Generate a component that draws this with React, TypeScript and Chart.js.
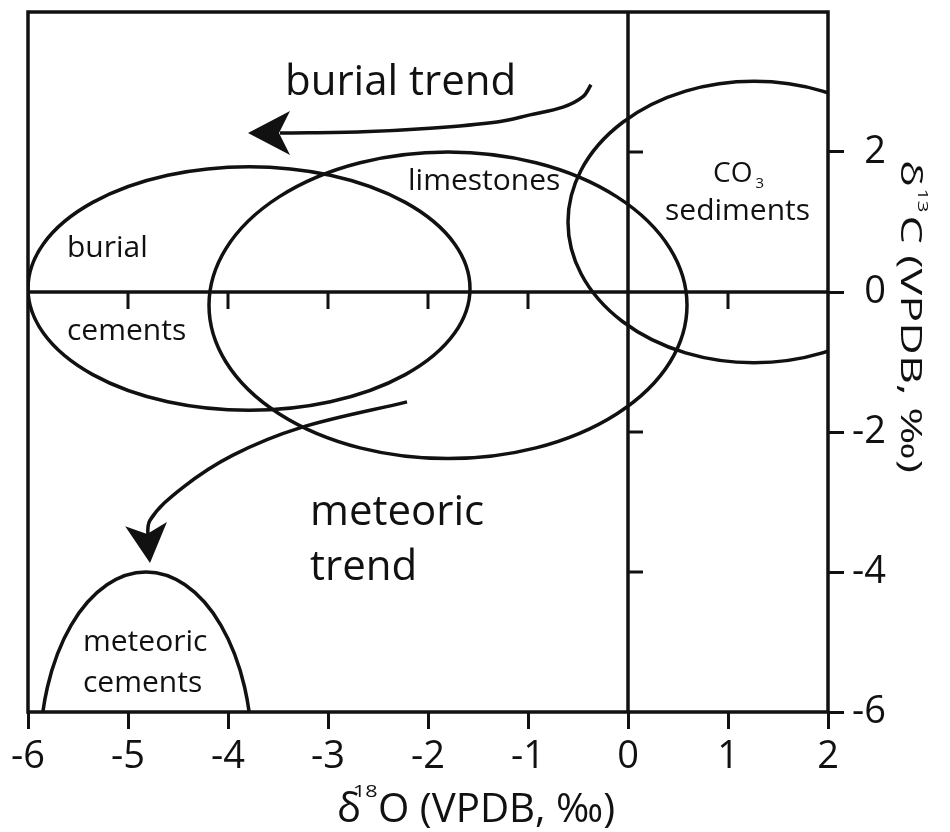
import React, { useEffect, useRef } from 'react';
import { Chart, registerables } from 'chart.js';

Chart.register(...registerables);

const FONT = '"Open Sans", "Noto Sans", "DejaVu Sans", sans-serif';
const INK = '#111';

// ---- axes ----
const xMin = -6;
const xMax = 2;
const yMin = -6;
const yMax = 4;
const xTickValues = [-6, -5, -4, -3, -2, -1, 0, 1, 2];
const yTickValues = [-6, -4, -2, 0, 2];
const innerXTickValues = [-5, -4, -3, -2, -1, 1]; // ticks on the y = 0 line
const innerYTickValues = [2, -2, -4]; // ticks on the x = 0 line

// ---- isotope fields (ellipses: centre and semi-axes, in ‰) ----
const fieldNames = ['burial cements', 'limestones', 'CO3 sediments', 'meteoric cements'];
const fieldCx = [-3.79, -1.8, 1.26, -4.82];
const fieldCy = [0.05, -0.19, 1.0, -6.6];
const fieldRx = [2.21, 2.39, 1.86, 1.06];
const fieldRy = [1.74, 2.19, 2.01, 2.6];

// ---- trend arrows (shaft points, then arrow tip) ----
const burialTrendX = [-0.37, -0.45, -0.65, -0.98, -1.31, -1.98, -2.65, -3.48];
const burialTrendY = [2.96, 2.79, 2.64, 2.53, 2.43, 2.34, 2.29, 2.27];
const burialTip = [-3.8, 2.27];
const meteoricTrendX = [-2.21, -3.28, -3.95, -4.45, -4.78, -4.8];
const meteoricTrendY = [-1.57, -1.94, -2.33, -2.79, -3.26, -3.59];
const meteoricTip = [-4.78, -3.87];

// ---- text annotations (left edge, baseline) ----
const labelTexts = ['burial trend', 'burial', 'cements', 'limestones', 'sediments', 'meteoric', 'trend', 'meteoric', 'cements'];
const labelX = [-3.43, -5.61, -5.61, -2.2, 0.37, -3.18, -3.18, -5.45, -5.45];
const labelY = [2.81, 0.5, -0.69, 1.46, 1.03, -3.33, -4.11, -5.13, -5.71];
const labelSize = [42, 30, 30, 30, 30, 42, 42, 30, 30];
const co3X = 0.85;
const co3Y = 1.57;

function arrowHead(ctx: CanvasRenderingContext2D, fx: number, fy: number, tx: number, ty: number, len: number, half: number, notch: number) {
  const dx = tx - fx;
  const dy = ty - fy;
  const L = Math.hypot(dx, dy) || 1;
  const ux = dx / L;
  const uy = dy / L;
  const px = -uy;
  const py = ux;
  ctx.beginPath();
  ctx.moveTo(tx, ty);
  ctx.lineTo(tx - ux * len + px * half, ty - uy * len + py * half);
  ctx.lineTo(tx - ux * notch, ty - uy * notch);
  ctx.lineTo(tx - ux * len - px * half, ty - uy * len - py * half);
  ctx.closePath();
  ctx.fill();
}

const overlayPlugin = {
  id: 'overlay',
  beforeDatasetsDraw(chart: any) {
    const { ctx, chartArea: a, scales } = chart;
    const xs = scales.x;
    const ys = scales.y;
    ctx.save();
    ctx.beginPath();
    ctx.rect(a.left, a.top, a.right - a.left, a.bottom - a.top);
    ctx.clip();
    ctx.strokeStyle = INK;
    ctx.lineWidth = 3.5;
    for (let i = 0; i < fieldNames.length; i++) {
      const cx = xs.getPixelForValue(fieldCx[i]);
      const cy = ys.getPixelForValue(fieldCy[i]);
      const rx = Math.abs(xs.getPixelForValue(fieldCx[i] + fieldRx[i]) - cx);
      const ry = Math.abs(ys.getPixelForValue(fieldCy[i] + fieldRy[i]) - cy);
      ctx.beginPath();
      ctx.ellipse(cx, cy, rx, ry, 0, 0, Math.PI * 2);
      ctx.stroke();
    }
    ctx.restore();
  },
  afterDatasetsDraw(chart: any) {
    const { ctx, chartArea: a, scales } = chart;
    const xs = scales.x;
    const ys = scales.y;
    ctx.save();
    ctx.strokeStyle = INK;
    ctx.fillStyle = INK;
    ctx.lineWidth = 3.5;
    ctx.lineCap = 'butt';
    const line = (x1: number, y1: number, x2: number, y2: number) => {
      ctx.beginPath();
      ctx.moveTo(x1, y1);
      ctx.lineTo(x2, y2);
      ctx.stroke();
    };
    const x0 = xs.getPixelForValue(0);
    const y0 = ys.getPixelForValue(0);
    line(a.left, y0, a.right, y0);
    line(x0, a.top, x0, a.bottom);
    ctx.lineWidth = 3;
    innerXTickValues.forEach((v) => {
      const p = xs.getPixelForValue(v);
      line(p, y0, p, y0 + 17);
    });
    innerYTickValues.forEach((v) => {
      const p = ys.getPixelForValue(v);
      line(x0, p, x0 + 15, p);
    });
    ctx.lineWidth = 3.5;
    ctx.strokeRect(a.left, a.top, a.right - a.left, a.bottom - a.top);

    // arrow heads
    const bn = burialTrendX.length - 1;
    arrowHead(ctx,
      xs.getPixelForValue(burialTrendX[bn]), ys.getPixelForValue(burialTrendY[bn]),
      xs.getPixelForValue(burialTip[0]), ys.getPixelForValue(burialTip[1]), 42, 22, 31);
    const mn = meteoricTrendX.length - 1;
    arrowHead(ctx,
      xs.getPixelForValue(meteoricTrendX[mn]), ys.getPixelForValue(meteoricTrendY[mn]),
      xs.getPixelForValue(meteoricTip[0]), ys.getPixelForValue(meteoricTip[1]), 39, 21, 29);

    // labels
    ctx.textAlign = 'left';
    ctx.textBaseline = 'alphabetic';
    for (let i = 0; i < labelTexts.length; i++) {
      ctx.font = `${labelSize[i]}px ${FONT}`;
      ctx.fillText(labelTexts[i], xs.getPixelForValue(labelX[i]), ys.getPixelForValue(labelY[i]));
    }
    const cxp = xs.getPixelForValue(co3X);
    const cyp = ys.getPixelForValue(co3Y);
    ctx.font = `28px ${FONT}`;
    ctx.fillText('CO', cxp, cyp);
    const wco = ctx.measureText('CO').width;
    ctx.font = `15px ${FONT}`;
    ctx.fillText('3', cxp + wco + 3, cyp + 6);

    // bottom axis title: δ18O (VPDB, ‰)
    const bb = a.bottom + 110;
    const bx = a.left + 309;
    ctx.font = `40px ${FONT}`;
    ctx.fillText('δ', bx, bb);
    ctx.font = `16px ${FONT}`;
    ctx.save();
    ctx.translate(bx + 16, bb - 25);
    ctx.scale(1.35, 1);
    ctx.fillText('18', 0, 0);
    ctx.restore();
    ctx.font = `40px ${FONT}`;
    const rest = 'O (VPDB, ‰)';
    const wr = ctx.measureText(rest).width;
    ctx.save();
    ctx.translate(bx + 41, bb);
    ctx.scale(237 / wr, 1);
    ctx.fillText(rest, 0, 0);
    ctx.restore();

    // right axis title: δ13C (VPDB, ‰), reading downward
    ctx.save();
    ctx.translate(a.right + 73, a.top + 148);
    ctx.rotate(Math.PI / 2);
    ctx.font = `30px ${FONT}`;
    const w1 = ctx.measureText('δ').width;
    const rest2 = 'C (VPDB, ‰)';
    const w3 = ctx.measureText(rest2).width;
    ctx.font = `14px ${FONT}`;
    const w2 = ctx.measureText('13').width;
    const total = w1 + w2 + w3 + 3;
    ctx.scale(313 / total, 1);
    ctx.font = `30px ${FONT}`;
    ctx.fillText('δ', 0, 0);
    ctx.font = `14px ${FONT}`;
    ctx.fillText('13', w1 + 1, -17);
    ctx.font = `30px ${FONT}`;
    ctx.fillText(rest2, w1 + w2 + 3, 0);
    ctx.restore();

    ctx.restore();
  },
};

export default function App() {
  const ref = useRef<HTMLCanvasElement | null>(null);
  useEffect(() => {
    if (!ref.current) return;
    const toPts = (xs: number[], ys: number[]) => xs.map((x, i) => ({ x, y: ys[i] }));
    const chart = new Chart(ref.current, {
      type: 'scatter',
      data: {
        datasets: [
          {
            label: 'burial trend',
            data: toPts(burialTrendX, burialTrendY),
            showLine: true,
            borderColor: INK,
            borderWidth: 3.5,
            pointRadius: 0,
            tension: 0.35,
            fill: false,
          },
          {
            label: 'meteoric trend',
            data: toPts(meteoricTrendX, meteoricTrendY),
            showLine: true,
            borderColor: INK,
            borderWidth: 3.5,
            pointRadius: 0,
            tension: 0.35,
            fill: false,
          },
        ],
      },
      options: {
        animation: false,
        responsive: false,
        devicePixelRatio: 1,
        layout: { padding: { left: 28, top: 12, right: 64, bottom: 0 } },
        plugins: { legend: { display: false }, tooltip: { enabled: false } },
        scales: {
          x: {
            type: 'linear',
            position: 'bottom',
            min: xMin,
            max: xMax,
            afterBuildTicks: (s: any) => {
              s.ticks = xTickValues.map((v) => ({ value: v }));
            },
            afterFit: (s: any) => {
              s.height = 120;
              s.paddingLeft = 0;
              s.paddingRight = 0;
              s.paddingTop = 0;
              s.paddingBottom = 0;
            },
            grid: {
              display: true,
              drawOnChartArea: false,
              drawTicks: true,
              tickLength: 17,
              tickWidth: 3,
              tickColor: INK,
              color: INK,
            },
            border: { display: false },
            ticks: { color: INK, padding: 5, font: { family: FONT, size: 38 }, maxRotation: 0 },
          },
          y: {
            type: 'linear',
            position: 'right',
            min: yMin,
            max: yMax,
            afterBuildTicks: (s: any) => {
              s.ticks = yTickValues.map((v) => ({ value: v }));
            },
            afterFit: (s: any) => {
              s.width = 58;
              s.paddingLeft = 0;
              s.paddingRight = 0;
              s.paddingTop = 0;
              s.paddingBottom = 0;
            },
            grid: {
              display: true,
              drawOnChartArea: false,
              drawTicks: true,
              tickLength: 16,
              tickWidth: 3,
              tickColor: INK,
              color: INK,
            },
            border: { display: false },
            ticks: { color: INK, padding: 4, crossAlign: 'far', font: { family: FONT, size: 38 } },
          },
        },
      },
      plugins: [overlayPlugin],
    } as any);
    return () => chart.destroy();
  }, []);

  return (
    <div style={{ position: 'fixed', left: 0, top: 0, width: 950, height: 832, background: '#fff' }}>
      <canvas ref={ref} width={950} height={832} style={{ display: 'block' }} />
    </div>
  );
}
